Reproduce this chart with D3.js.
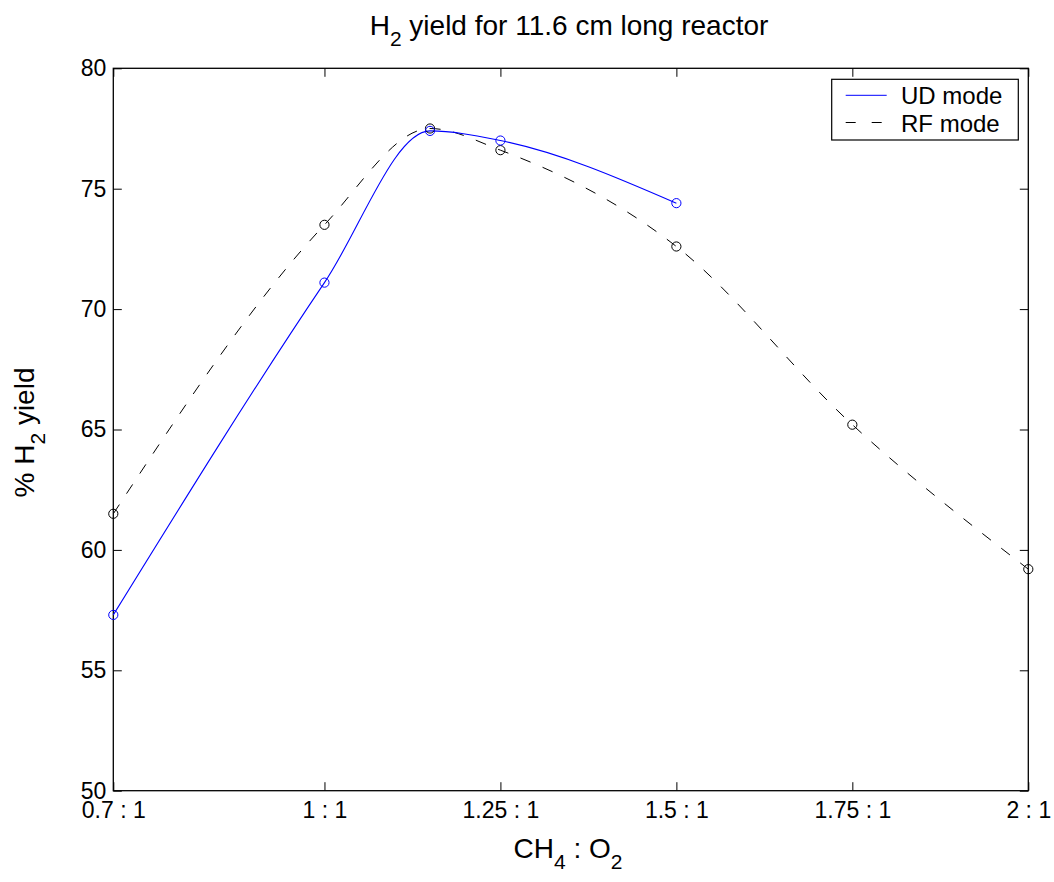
<!DOCTYPE html>
<html>
<head>
<meta charset="utf-8">
<script src="https://cdn.jsdelivr.net/npm/d3@7/dist/d3.min.js"></script>
<style>
  html, body { margin: 0; padding: 0; background: #fff; }
  svg { display: block; }
  text { font-family: "Liberation Sans", Arial, Helvetica, sans-serif; fill: #000; }
</style>
</head>
<body>
<svg id="chart" width="1054" height="882"></svg>
<script>
// CH4:O2 ratios and measured H2 yields (%)
const ratiosUD = [0.7, 1.0, 1.15, 1.25, 1.5];
const yieldUD  = [57.3, 71.1, 77.4, 77.0, 74.4];
const ratiosRF = [0.7, 1.0, 1.15, 1.25, 1.5, 1.75, 2.0];
const yieldRF  = [61.5, 73.5, 77.5, 76.6, 72.6, 65.2, 59.2];

const xTickValues = [0.7, 1.0, 1.25, 1.5, 1.75, 2.0];
const xTickLabels = ["0.7 : 1", "1 : 1", "1.25 : 1", "1.5 : 1", "1.75 : 1", "2 : 1"];
const yTickValues = [50, 55, 60, 65, 70, 75, 80];

const seriesNames = ["UD mode", "RF mode"];

const svg = d3.select("#chart");
const plotL = 113.3, plotR = 1028.3, plotT = 68.3, plotB = 790.7;

const x = d3.scaleLinear().domain([0.7, 2.0]).range([plotL, plotR]);
const y = d3.scaleLinear().domain([50, 80]).range([plotB, plotT]);

const tickLen = 8.5;
const tickFont = 23;

// x ticks (bottom and top, pointing inward)
const xAxisBottom = d3.axisBottom(x).tickValues(xTickValues)
  .tickSizeInner(-tickLen).tickSizeOuter(0)
  .tickFormat((d, i) => xTickLabels[i]).tickPadding(11);
const gxb = svg.append("g").attr("transform", `translate(0,${plotB})`).call(xAxisBottom);
gxb.select(".domain").remove();
gxb.selectAll("text").attr("font-size", tickFont).attr("font-family", "Liberation Sans, Arial, sans-serif").attr("fill", "#000");
gxb.selectAll("line").attr("stroke", "#000");

const xAxisTop = d3.axisTop(x).tickValues(xTickValues)
  .tickSizeInner(-tickLen).tickSizeOuter(0).tickFormat("");
const gxt = svg.append("g").attr("transform", `translate(0,${plotT})`).call(xAxisTop);
gxt.select(".domain").remove();
gxt.selectAll("line").attr("stroke", "#000");

// y ticks (left and right, pointing inward)
const yAxisLeft = d3.axisLeft(y).tickValues(yTickValues)
  .tickSizeInner(-tickLen).tickSizeOuter(0)
  .tickFormat(d3.format("d")).tickPadding(7);
const gyl = svg.append("g").attr("transform", `translate(${plotL},0)`).call(yAxisLeft);
gyl.select(".domain").remove();
gyl.selectAll("text").attr("font-size", tickFont).attr("font-family", "Liberation Sans, Arial, sans-serif").attr("fill", "#000");
gyl.selectAll("line").attr("stroke", "#000");

const yAxisRight = d3.axisRight(y).tickValues(yTickValues)
  .tickSizeInner(-tickLen).tickSizeOuter(0).tickFormat("");
const gyr = svg.append("g").attr("transform", `translate(${plotR},0)`).call(yAxisRight);
gyr.select(".domain").remove();
gyr.selectAll("line").attr("stroke", "#000");

svg.append("rect")
  .attr("x", plotL).attr("y", plotT)
  .attr("width", plotR - plotL).attr("height", plotB - plotT)
  .attr("fill", "none").attr("stroke", "#000").attr("stroke-width", 1.3);

// curves
const line = d3.line().x(d => x(d[0])).y(d => y(d[1])).curve(d3.curveMonotoneX);
const udPts = ratiosUD.map((r, i) => [r, yieldUD[i]]);
const rfPts = ratiosRF.map((r, i) => [r, yieldRF[i]]);

svg.append("path").datum(rfPts).attr("d", line)
  .attr("fill", "none").attr("stroke", "#000").attr("stroke-width", 1)
  .attr("stroke-dasharray", "11,13");
svg.append("path").datum(udPts).attr("d", line)
  .attr("fill", "none").attr("stroke", "#0000ff").attr("stroke-width", 1.1);

svg.append("g").selectAll("circle").data(rfPts).join("circle")
  .attr("cx", d => x(d[0])).attr("cy", d => y(d[1])).attr("r", 4.6)
  .attr("fill", "none").attr("stroke", "#000").attr("stroke-width", 1);
svg.append("g").selectAll("circle").data(udPts).join("circle")
  .attr("cx", d => x(d[0])).attr("cy", d => y(d[1])).attr("r", 4.6)
  .attr("fill", "none").attr("stroke", "#0000ff").attr("stroke-width", 1);

// title
const title = svg.append("text").attr("x", 569).attr("y", 34.5)
  .attr("text-anchor", "middle").attr("font-size", 28);
title.append("tspan").text("H");
title.append("tspan").attr("font-size", 21).attr("dy", 11).text("2");
title.append("tspan").attr("dy", -11).text(" yield for 11.6 cm long reactor");

// x label
const xl = svg.append("text").attr("x", 568).attr("y", 858)
  .attr("text-anchor", "middle").attr("font-size", 28);
xl.append("tspan").text("CH");
xl.append("tspan").attr("font-size", 21).attr("dy", 11).text("4");
xl.append("tspan").attr("dy", -11).text(" : O");
xl.append("tspan").attr("font-size", 21).attr("dy", 11).text("2");

// y label
const yl = svg.append("text")
  .attr("transform", `translate(34,432.5) rotate(-90)`)
  .attr("text-anchor", "middle").attr("font-size", 28);
yl.append("tspan").text("% H");
yl.append("tspan").attr("font-size", 21).attr("dy", 11).text("2");
yl.append("tspan").attr("dy", -11).text(" yield");

// legend
const lg = svg.append("g");
lg.append("rect").attr("x", 831.7).attr("y", 79.3).attr("width", 186.6).attr("height", 60.7)
  .attr("fill", "#fff").attr("stroke", "#000").attr("stroke-width", 1.2);
const legendRows = [
  { name: seriesNames[0], color: "#0000ff", dash: null, y: 95.3 },
  { name: seriesNames[1], color: "#000", dash: "10,16", y: 122.5 }
];
legendRows.forEach(r => {
  lg.append("line").attr("x1", 845.7).attr("x2", 886.7).attr("y1", r.y).attr("y2", r.y)
    .attr("stroke", r.color).attr("stroke-width", 1)
    .attr("stroke-dasharray", r.dash);
  lg.append("text").attr("x", 901).attr("y", r.y + 9).attr("font-size", 24).text(r.name);
});
</script>
</body>
</html>
